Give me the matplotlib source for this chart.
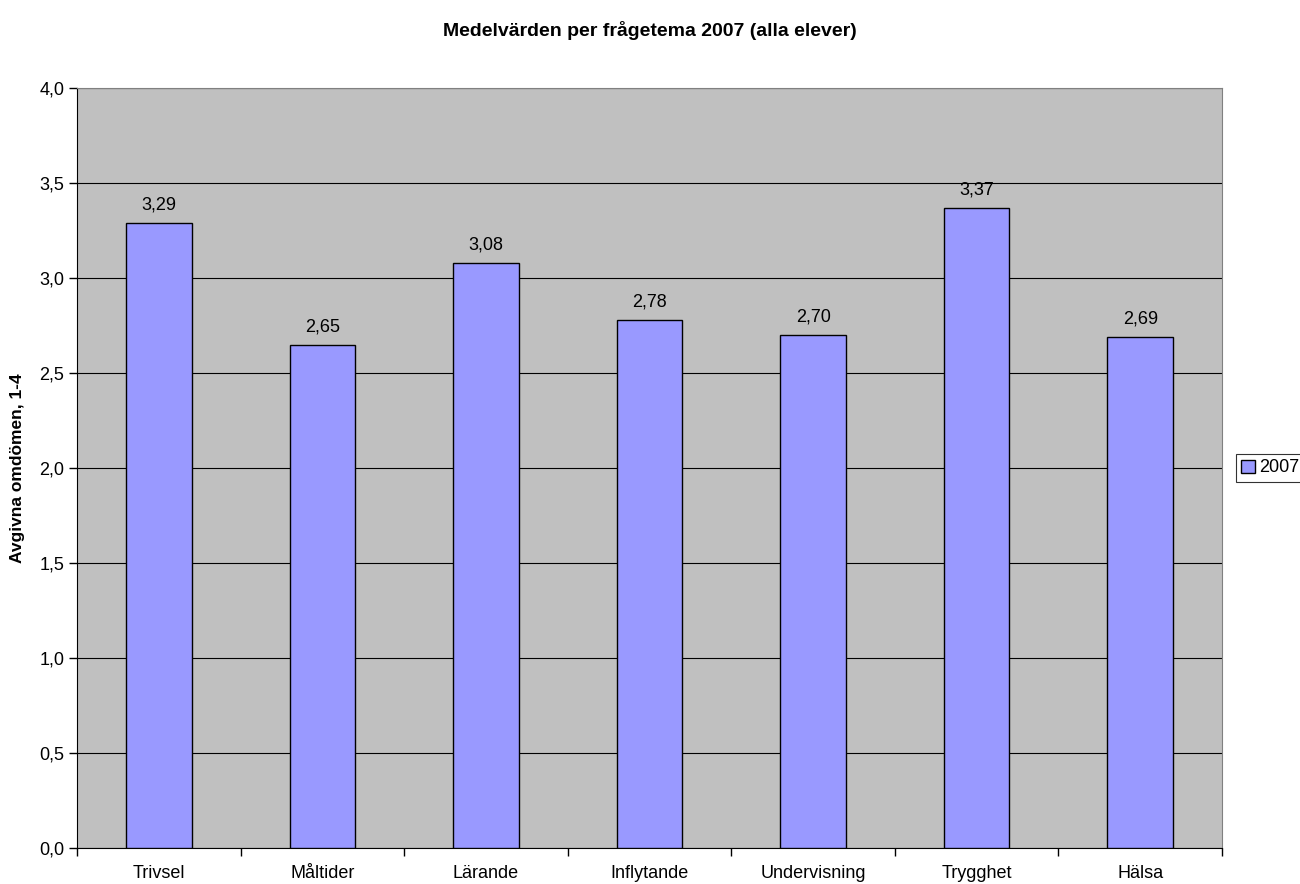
import matplotlib.pyplot as plt
import numpy as np

categories = ['Trivsel', 'Måltider', 'Lärande', 'Inflytande', 'Undervisning', 'Trygghet', 'Hälsa']
values_2007 = [3.29, 2.65, 3.08, 2.78, 2.70, 3.37, 2.69]
y_ticks = [0.0, 0.5, 1.0, 1.5, 2.0, 2.5, 3.0, 3.5, 4.0]

plt.rcParams['font.family'] = ['Liberation Sans', 'DejaVu Sans']

fig = plt.figure(figsize=(13, 8.84), dpi=100)
ax = fig.add_axes([77 / 1300, 1 - 848 / 884, (1222 - 77) / 1300, (848 - 88) / 884])
ax.set_facecolor('#c0c0c0')

x = np.arange(len(categories))
bars = ax.bar(x, values_2007, width=0.4, color='#9999ff', edgecolor='black',
              linewidth=1.0, label='2007', zorder=3)

for b, v in zip(bars, values_2007):
    ax.text(b.get_x() + b.get_width() / 2, v + 0.05, f'{v:.2f}'.replace('.', ','),
            ha='center', va='bottom', fontsize=13, zorder=4)

ax.set_xlim(-0.5, len(categories) - 0.5)
ax.set_ylim(0, 4)
ax.set_yticks(y_ticks)
ax.set_yticklabels([f'{t:.1f}'.replace('.', ',') for t in y_ticks], fontsize=13)
ax.yaxis.grid(True, color='black', linewidth=0.8, zorder=0)
ax.set_axisbelow(True)

# category labels centred, tick marks on category boundaries
ax.set_xticks(x)
ax.set_xticklabels(categories, fontsize=13)
ax.tick_params(axis='x', length=0, pad=12)
ax.set_xticks(np.arange(-0.5, len(categories)), minor=True)
ax.tick_params(axis='x', which='minor', length=6, direction='out', width=1)
ax.tick_params(axis='y', length=6, direction='out', width=1, pad=3)

for side in ['top', 'right']:
    ax.spines[side].set_color('#808080')
ax.spines['left'].set_color('black')
ax.spines['bottom'].set_color('black')

ax.set_ylabel('Avgivna omdömen, 1-4', fontsize=12.5, fontweight='bold', labelpad=10)
fig.suptitle('Medelvärden per frågetema 2007 (alla elever)', fontsize=14,
             fontweight='bold', y=1 - 21 / 884)

leg = ax.legend(loc='center left', bbox_to_anchor=(1.012, 0.5), fontsize=13,
                frameon=True, fancybox=False, edgecolor='black', borderpad=0.3,
                handlelength=0.75, handleheight=0.75, handletextpad=0.25,
                borderaxespad=0)
leg.get_frame().set_linewidth(0.8)

fig.savefig('out.png', dpi=100)
